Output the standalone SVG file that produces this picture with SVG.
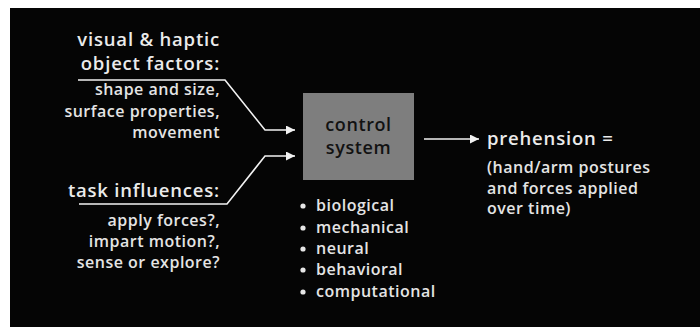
<svg xmlns="http://www.w3.org/2000/svg" width="700" height="327" viewBox="0 0 700 327">
  <style>
    .big { font-family: "Open Sans", "Liberation Sans", sans-serif; font-size: 18.5px; font-weight: 600; letter-spacing: 0.8px; fill: #ebebeb; }
    .small { font-family: "Open Sans", "Liberation Sans", sans-serif; font-size: 16px; font-weight: 600; letter-spacing: 0.5px; fill: #e4e4e4; }
    .end { text-anchor: end; }
    .box-label { font-family: "Open Sans", "Liberation Sans", sans-serif; font-size: 18px; font-weight: 600; letter-spacing: 0.6px; fill: #121212; text-anchor: middle; }
    .wire { fill: none; stroke: #f2f2f2; stroke-width: 1.6; }
    .bullet { fill: #e6e6e6; }
  </style>
  <defs>
    <marker id="arrow" viewBox="0 0 10 10" refX="10" refY="5" markerWidth="10" markerHeight="9" markerUnits="userSpaceOnUse" orient="auto">
      <path d="M0,0 L10,5 L0,10 Z" fill="#f2f2f2"/>
    </marker>
  </defs>

  <!-- page and dark panel -->
  <rect x="0" y="0" width="700" height="327" fill="#ffffff"/>
  <rect x="10" y="8" width="690" height="319" fill="#050505"/>

  <!-- input: object factors -->
  <g id="object-factors">
    <text class="big end" x="220" y="46">visual &amp; haptic</text>
    <text class="big end" x="220" y="70">object factors:</text>
    <text class="small end" x="220" y="95">shape and size,</text>
    <text class="small end" x="220" y="117">surface properties,</text>
    <text class="small end" x="220" y="138">movement</text>
  </g>

  <!-- input: task influences -->
  <g id="task-influences">
    <text class="big end" x="220" y="197">task influences:</text>
    <text class="small end" x="220" y="226">apply forces?,</text>
    <text class="small end" x="220" y="247">impart motion?,</text>
    <text class="small end" x="220" y="268">sense or explore?</text>
  </g>

  <!-- central block -->
  <g id="control-system">
    <rect x="303" y="93" width="111" height="87" fill="#7e7e7e"/>
    <text class="box-label" x="358.5" y="131">control</text>
    <text class="box-label" x="358.5" y="154">system</text>
  </g>

  <!-- kinds of control system -->
  <g id="system-types">
    <circle class="bullet" cx="303" cy="206" r="2.6"/>
    <text class="small" x="316" y="211">biological</text>
    <circle class="bullet" cx="303" cy="228" r="2.6"/>
    <text class="small" x="316" y="233">mechanical</text>
    <circle class="bullet" cx="303" cy="249" r="2.6"/>
    <text class="small" x="316" y="254">neural</text>
    <circle class="bullet" cx="303" cy="270" r="2.6"/>
    <text class="small" x="316" y="275">behavioral</text>
    <circle class="bullet" cx="303" cy="292" r="2.6"/>
    <text class="small" x="316" y="297">computational</text>
  </g>

  <!-- output -->
  <g id="prehension">
    <text class="big" x="487" y="145">prehension =</text>
    <text class="small" x="487" y="173">(hand/arm postures</text>
    <text class="small" x="487" y="194">and forces applied</text>
    <text class="small" x="487" y="214">over time)</text>
  </g>

  <!-- connectors -->
  <g id="connectors">
    <path class="wire" d="M78,80 L225,80 L265,130 L295,130" marker-end="url(#arrow)"/>
    <path class="wire" d="M79,204 L227,204 L265,156 L295,156" marker-end="url(#arrow)"/>
    <path class="wire" d="M424,139 L479,139" marker-end="url(#arrow)"/>
  </g>
</svg>
